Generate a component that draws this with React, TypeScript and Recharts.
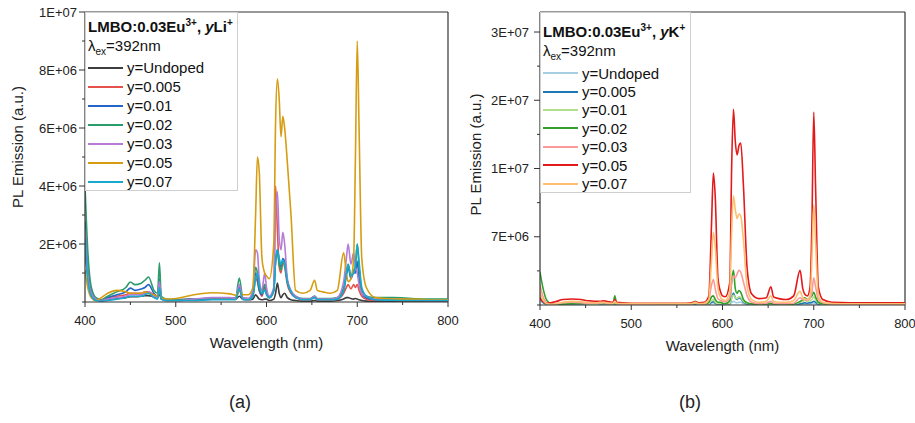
import React from 'react';
import { LineChart, Line, XAxis, YAxis, Legend, Label, ReferenceLine } from 'recharts';

// Wavelength grid (nm)
const wavelengths = [
  400, 403, 407, 412, 418, 425, 435, 445, 450, 455,
  462, 466, 470, 476, 480, 482, 484, 490, 500, 520,
  540, 560, 566, 570, 574, 580, 585, 588, 590, 592,
  595, 598, 600, 603, 608, 610, 612, 614, 616, 618,
  620, 623, 627, 632, 640, 648, 653, 656, 662, 670,
  678, 685, 688, 690, 693, 696, 698, 700, 702, 705,
  710, 720, 740, 760, 780, 800,
];

// Intensities in units of 1E+05 a.u.
const UNIT = 1e5;

// (a) LMBO:0.03Eu3+, yLi+
const liUndoped = [
  18, 9, 3, 1, 0.5, 0.8, 1.2, 1.5, 1.8, 1.8,
  2, 2.2, 2.2, 1.8, 1.5, 3, 1, 0.5, 0.5, 0.8,
  1, 1, 1, 2, 1, 0.8, 1, 2.5, 1.8, 1,
  0.8, 1, 1, 0.5, 1, 3, 6.5, 3, 1.5, 2.5,
  3, 1.5, 0.8, 0.5, 0.3, 0.3, 0.5, 0.3, 0.3, 0.3,
  0.5, 1, 1.5, 1.5, 1.2, 1, 1.2, 1, 0.8, 0.5,
  0.3, 0.2, 0.2, 0.2, 0.2, 0.2,
];
const li0005 = [
  20, 10, 3, 1, 0.8, 1.5, 2, 2.5, 3, 3,
  3, 3.5, 3.5, 2.5, 2, 6, 1.5, 0.8, 0.8, 1,
  1.2, 1.2, 1.2, 4, 1.2, 1, 2, 8, 7, 4,
  2, 5, 3, 1.5, 4, 40, 25, 12, 10, 14,
  12, 6, 3, 1.5, 0.8, 0.8, 1.5, 0.8, 0.8, 0.8,
  1, 3, 5, 6, 4.5, 6, 5, 6, 4, 2,
  1, 0.6, 0.6, 0.5, 0.5, 0.5,
];
const li001 = [
  28, 12, 3.5, 1, 0.6, 1.5, 2.5, 3.5, 4.8, 4,
  4.5, 5, 6, 3, 2, 8, 1.5, 0.8, 0.8, 1,
  1.2, 1.2, 1.2, 5, 1.2, 1, 2.5, 10, 8, 4,
  2.5, 6, 3, 1.5, 4, 14, 18, 14, 12, 15,
  14, 7, 3.5, 1.8, 1, 1, 2, 1, 1, 1,
  1.2, 4, 9, 12, 8, 10, 10, 14, 8, 3,
  1.5, 0.8, 0.8, 0.6, 0.6, 0.5,
];
const li002 = [
  40, 18, 5, 1.5, 0.8, 2, 3.5, 5, 6.9, 6,
  6.5, 7.5, 8.6, 4, 3, 13.5, 2, 1, 0.8, 1,
  1.2, 1.2, 1.5, 8.3, 1.5, 1.2, 3, 12, 10, 5,
  3, 6, 3, 1.5, 4, 14, 17, 13, 11, 14,
  13, 7, 3.5, 2, 1.2, 1.2, 2, 1.2, 1.2, 1.2,
  1.5, 5, 10, 13, 9, 11, 12, 20, 12, 4,
  2, 1.5, 1.5, 1.2, 1, 1,
];
const li003 = [
  25, 10, 3, 1, 0.5, 1, 1.5, 2, 2.5, 2.5,
  2.5, 3, 3.5, 2, 1.5, 7, 1.5, 0.5, 0.5, 1,
  1.5, 1.5, 1.2, 6, 1.5, 1.2, 4, 18, 17, 8,
  4, 10, 5, 2, 5, 30, 38, 22, 18, 24,
  20, 8, 4, 2, 1, 1, 2, 1, 1, 1,
  1.5, 7, 15, 20, 13, 17, 12, 10, 6, 3,
  2, 1, 1, 0.8, 0.5, 0.5,
];
const li005 = [
  11, 5, 1.5, 0.5, 1.5, 3, 4, 3.5, 3, 3,
  3, 3.5, 3, 2.5, 2, 4, 1.5, 1, 1.2, 2.5,
  3.2, 2.8, 2.3, 4, 2.5, 2.5, 5, 30, 50, 45,
  15, 10, 9, 8, 20, 62, 77, 70, 57, 64,
  60, 48, 30, 4, 3, 4, 7.5, 4, 3.5, 3,
  4, 17, 10, 7, 8, 15, 50, 90, 60, 15,
  5, 1.5, 1, 1, 0.8, 0.8,
];
const li007 = [
  22, 8, 2, 0.5, 0.3, 0.5, 1, 1.5, 2, 2,
  2, 2.5, 3, 1.5, 1, 5, 1, 0.5, 0.5, 0.5,
  0.8, 0.8, 0.8, 4.5, 0.8, 0.8, 2, 8, 10, 6,
  3, 4, 2.5, 1.5, 4, 14, 18, 15, 13, 14.5,
  13, 7, 3.5, 1.5, 0.8, 0.8, 1.5, 0.8, 0.8, 0.8,
  1, 4, 10, 13, 9, 10, 13, 20, 14, 5,
  2, 0.8, 0.6, 0.5, 0.5, 0.5,
];

// (b) LMBO:0.03Eu3+, yK+
const kUndoped = [
  6, 3, 1, 0.3, 0.2, 0.2, 0.3, 0.3, 0.3, 0.3,
  0.3, 0.5, 0.4, 0.3, 0.3, 1, 0.3, 0.2, 0.2, 0.2,
  0.2, 0.2, 0.2, 0.8, 0.2, 0.2, 0.5, 2, 2.5, 1.5,
  0.8, 0.8, 0.6, 0.5, 1, 3, 4, 3, 2.5, 3,
  3, 1.5, 0.8, 0.4, 0.3, 0.3, 0.5, 0.3, 0.3, 0.3,
  0.3, 0.8, 1, 1.2, 1, 1.2, 1.5, 2, 1.5, 0.6,
  0.3, 0.2, 0.2, 0.2, 0.2, 0.2,
];
const k0005 = [
  8, 3, 1, 0.3, 0.2, 0.3, 0.3, 0.3, 0.3, 0.3,
  0.4, 0.6, 0.5, 0.3, 0.3, 1.5, 0.3, 0.2, 0.2, 0.2,
  0.2, 0.2, 0.2, 1, 0.3, 0.3, 1, 3, 3.5, 2,
  1, 1.2, 1, 0.7, 1.5, 8, 13, 8, 6, 8,
  7, 3, 1.2, 0.5, 0.3, 0.4, 0.8, 0.4, 0.3, 0.3,
  0.4, 1.5, 2, 2.5, 2, 2.5, 3, 4, 3, 1,
  0.5, 0.3, 0.2, 0.2, 0.2, 0.2,
];
const k001 = [
  12, 5, 1.5, 0.5, 0.8, 1.2, 1.5, 1.5, 1.2, 1,
  1, 1.5, 1.5, 0.8, 0.8, 3, 0.8, 0.5, 0.5, 0.5,
  0.6, 0.6, 0.6, 2, 0.6, 0.6, 1.5, 5, 6, 3,
  1.5, 2, 1.5, 1, 2, 8, 11, 8, 7, 9,
  8, 4, 2, 1, 0.6, 0.8, 1.5, 0.8, 0.6, 0.6,
  0.8, 3, 4, 5, 4, 5, 6, 9, 6, 2,
  1, 0.6, 0.5, 0.5, 0.5, 0.5,
];
const k002 = [
  36, 20, 6, 1.5, 0.8, 1, 1.5, 1.8, 2, 2,
  2.2, 3, 2.5, 1.5, 1.5, 10, 1.5, 0.8, 0.8, 0.8,
  0.8, 0.8, 0.8, 4, 1, 1, 3, 9, 10, 6,
  3, 3, 2, 1.5, 5, 25, 38, 18, 13, 16,
  14, 6, 2.5, 1.2, 0.8, 1, 2, 1, 0.8, 0.8,
  1, 4, 6, 8, 6, 8, 10, 14, 9, 3,
  1.5, 0.8, 0.8, 0.6, 0.6, 0.6,
];
const k003 = [
  22, 10, 3, 1, 1.5, 2.5, 3, 2.5, 2, 2,
  2, 2.5, 2.5, 1.5, 1.5, 5, 1.5, 1, 1, 1,
  1.2, 1.2, 1.2, 3, 1.2, 1.2, 6, 22, 28, 18,
  7, 5, 4, 3.5, 8, 25, 32, 30, 34, 38,
  36, 25, 10, 3, 1.5, 2, 4, 2, 1.5, 1.5,
  2, 8, 6, 6, 5, 8, 14, 30, 20, 6,
  2.5, 1, 1, 1, 0.8, 0.8,
];
const k005 = [
  8, 4, 2, 2.5, 4, 6, 6.6, 6, 5, 4.5,
  4, 4, 4.5, 3.5, 3, 6, 3, 2.5, 2, 2,
  2, 2, 2.5, 3.5, 2.5, 3, 10, 90, 145, 120,
  30, 14, 10, 9, 25, 150, 215, 180, 165, 175,
  178, 130, 40, 12, 7, 8, 20, 9, 7, 6,
  10, 38, 18, 12, 10, 20, 90, 212, 130, 20,
  6, 3, 2.5, 2.5, 2.5, 2.5,
];
const k007 = [
  14, 6, 2, 0.8, 1.5, 3, 4, 3.5, 3, 2.5,
  2.5, 3, 3, 2, 2, 4, 2, 1.5, 1.5, 1.5,
  1.5, 1.5, 1.5, 3, 1.5, 2, 6, 50, 80, 65,
  18, 8, 6, 5, 15, 80, 120, 105, 95, 100,
  98, 70, 20, 6, 3, 4, 10, 4, 3, 3,
  5, 15, 8, 7, 6, 10, 50, 110, 70, 10,
  3, 1.5, 1.2, 1.2, 1.2, 1.2,
];

const seriesNames = ['y=Undoped', 'y=0.005', 'y=0.01', 'y=0.02', 'y=0.03', 'y=0.05', 'y=0.07'];
const liColors = ['#3d3d3d', '#e5524b', '#2466c7', '#2b9c6b', '#b57bd6', '#d69d12', '#19a9cc'];
const kColors = ['#a6cee3', '#1f78b4', '#b2df8a', '#33a02c', '#fb9a99', '#e31a1c', '#fdbf6f'];

const xTicks = [400, 450, 500, 550, 600, 650, 700, 750, 800];
const xTickLabels = ['400', '', '500', '', '600', '', '700', '', '800'];
const yTicksLi = [0, 1e6, 2e6, 3e6, 4e6, 5e6, 6e6, 7e6, 8e6, 9e6, 1e7];
const yTickLabelsLi = ['', '', '2E+06', '', '4E+06', '', '6E+06', '', '8E+06', '', '1E+07'];
const yTicksK = [0, 3.75e6, 7.5e6, 1.125e7, 1.5e7, 1.875e7, 2.25e7, 2.625e7, 3e7];
const yTickLabelsK = ['', '', '7E+06', '', '1E+07', '', '2E+07', '', '3E+07'];

const FONT = '"Liberation Sans", Arial, sans-serif';
const AX = '#333';

const buildRows = (series: number[][]) =>
  wavelengths.map((wl, i) => {
    const row: Record<string, number> = { wl };
    series.forEach((s, k) => {
      row['s' + k] = s[i] * UNIT;
    });
    return row;
  });

const liRows = buildRows([liUndoped, li0005, li001, li002, li003, li005, li007]);
const kRows = buildRows([kUndoped, k0005, k001, k002, k003, k005, k007]);

const XTick = (props: any) => {
  const { x, y, payload } = props;
  const idx = xTicks.indexOf(payload.value);
  const label = xTickLabels[idx] || '';
  const major = label !== '';
  return (
    <g>
      <line x1={x} x2={x} y1={y} y2={y + (major ? 5 : 3)} stroke={AX} strokeWidth={1} />
      {major && (
        <text x={x} y={y + 23} textAnchor="middle" fontSize={13} fill="#222" fontFamily={FONT}>
          {label}
        </text>
      )}
    </g>
  );
};

const makeYTick = (ticks: number[], labels: string[], gap: number) => (props: any) => {
  const { x, y, payload } = props;
  const idx = ticks.indexOf(payload.value);
  const label = labels[idx] || '';
  const major = label !== '';
  return (
    <g>
      <line x1={x - (major ? 6 : 3)} x2={x} y1={y} y2={y} stroke={AX} strokeWidth={1} />
      {major && (
        <text x={x - gap} y={y + 4.5} textAnchor="end" fontSize={13} fill="#222" fontFamily={FONT}>
          {label}
        </text>
      )}
    </g>
  );
};

const YTickLi = makeYTick(yTicksLi, yTickLabelsLi, 8);
const YTickK = makeYTick(yTicksK, yTickLabelsK, 11);

const makeYTitle = (dx: number, dy: number) => (props: any) => {
  const vb = props.viewBox || {};
  const cx = vb.x + dx;
  const cy = vb.y + vb.height / 2 + dy;
  return (
    <text
      x={cx}
      y={cy}
      transform={`rotate(-90, ${cx}, ${cy})`}
      textAnchor="middle"
      dominantBaseline="central"
      fontSize={15}
      fill="#222"
      fontFamily={FONT}
    >
      PL Emission (a.u.)
    </text>
  );
};

const makeXTitle = (dy: number) => (props: any) => {
  const vb = props.viewBox || {};
  return (
    <text
      x={vb.x + vb.width / 2}
      y={vb.y + dy}
      textAnchor="middle"
      fontSize={15}
      fill="#222"
      fontFamily={FONT}
    >
      Wavelength (nm)
    </text>
  );
};

const makeLegend = (
  ion: string,
  colors: string[],
  width: number,
  height: number,
  padTop: number,
  rowH: number,
  gapTop: number,
) => (props: any) => {
  const payload = props.payload || [];
  const items = seriesNames.map((name, k) => {
    const found = payload.find((p: any) => p.value === name);
    return { name, color: found ? found.color : colors[k] };
  });
  return (
    <div
      style={{
        width,
        height,
        boxSizing: 'border-box',
        border: '1px solid #cfcfcf',
        background: '#fff',
        fontFamily: FONT,
        color: '#111',
        paddingTop: padTop,
        paddingLeft: 2,
        textAlign: 'left',
      }}
    >
      <div style={{ height: 19, lineHeight: '19px', fontSize: 15, fontWeight: 'bold', whiteSpace: 'nowrap' }}>
        LMBO:0.03Eu<sup style={{ fontSize: 10, lineHeight: 0 }}>3+</sup>, <i>y</i>
        {ion}
        <sup style={{ fontSize: 10, lineHeight: 0 }}>+</sup>
      </div>
      <div style={{ height: 19, lineHeight: '19px', fontSize: 15, whiteSpace: 'nowrap' }}>
        λ<sub style={{ fontSize: 10, lineHeight: 0 }}>ex</sub>=392nm
      </div>
      <div style={{ marginTop: gapTop }}>
        {items.map((it) => (
          <div
            key={it.name}
            style={{ height: rowH, display: 'flex', alignItems: 'center', fontSize: 15, whiteSpace: 'nowrap' }}
          >
            <span
              style={{
                display: 'inline-block',
                width: 35,
                borderTop: `2px solid ${it.color}`,
                height: 0,
              }}
            />
            <span style={{ marginLeft: 4 }}>{it.name}</span>
          </div>
        ))}
      </div>
    </div>
  );
};

const LiLegend = makeLegend('Li', liColors, 153, 179, 4, 19, 3);
const KLegend = makeLegend('K', kColors, 151, 181, 9, 18.4, 4);

export default function App() {
  return (
    <div style={{ position: 'absolute', left: 0, top: 0, width: 915, height: 423, background: '#fff', fontFamily: FONT }}>
      <div style={{ position: 'absolute', left: 0, top: 0 }}>
        <LineChart width={460} height={380} data={liRows} margin={{ top: 12, right: 12, bottom: 0, left: 0 }}>
          <XAxis
            dataKey="wl"
            type="number"
            domain={[400, 800]}
            ticks={xTicks}
            interval={0}
            height={78}
            tickSize={0}
            tickMargin={0}
            tickLine={false}
            tick={<XTick />}
            axisLine={{ stroke: AX, strokeWidth: 1.2 }}
            allowDataOverflow
          >
            <Label content={makeXTitle(45.5)} />
          </XAxis>
          <YAxis
            type="number"
            domain={[0, 1e7]}
            ticks={yTicksLi}
            interval={0}
            width={85}
            tickSize={0}
            tickMargin={0}
            tickLine={false}
            tick={<YTickLi />}
            axisLine={{ stroke: AX, strokeWidth: 1.2 }}
            allowDataOverflow
          >
            <Label content={makeYTitle(17, -10)} />
          </YAxis>
          <ReferenceLine y={1e7} stroke={AX} strokeWidth={1.2} />
          <ReferenceLine x={800} stroke={AX} strokeWidth={1.2} />
          {seriesNames.map((name, k) => (
            <Line
              key={name}
              type="monotone"
              dataKey={'s' + k}
              name={name}
              stroke={liColors[k]}
              strokeWidth={1.6}
              dot={false}
              isAnimationActive={false}
            />
          ))}
          <Legend
            layout="horizontal"
            verticalAlign="middle"
            content={<LiLegend />}
            wrapperStyle={{ position: 'absolute', left: 85, top: 12, width: 153, height: 179 }}
          />
        </LineChart>
      </div>
      <div style={{ position: 'absolute', left: 460, top: 0 }}>
        <LineChart width={455} height={380} data={kRows} margin={{ top: 12, right: 10, bottom: 0, left: 0 }}>
          <XAxis
            dataKey="wl"
            type="number"
            domain={[400, 800]}
            ticks={xTicks}
            interval={0}
            height={75}
            tickSize={0}
            tickMargin={0}
            tickLine={false}
            tick={<XTick />}
            axisLine={{ stroke: AX, strokeWidth: 1.2 }}
            allowDataOverflow
          >
            <Label content={makeXTitle(46)} />
          </XAxis>
          <YAxis
            type="number"
            domain={[0, 3.22e7]}
            ticks={yTicksK}
            interval={0}
            width={80}
            tickSize={0}
            tickMargin={0}
            tickLine={false}
            tick={<YTickK />}
            axisLine={{ stroke: AX, strokeWidth: 1.2 }}
            allowDataOverflow
          >
            <Label content={makeYTitle(15, -4)} />
          </YAxis>
          <ReferenceLine y={3.22e7} stroke={AX} strokeWidth={1.2} />
          <ReferenceLine x={800} stroke={AX} strokeWidth={1.2} />
          {seriesNames.map((name, k) => (
            <Line
              key={name}
              type="monotone"
              dataKey={'s' + k}
              name={name}
              stroke={kColors[k]}
              strokeWidth={1.6}
              dot={false}
              isAnimationActive={false}
            />
          ))}
          <Legend
            layout="horizontal"
            verticalAlign="middle"
            content={<KLegend />}
            wrapperStyle={{ position: 'absolute', left: 80, top: 12, width: 151, height: 181 }}
          />
        </LineChart>
      </div>
      <div style={{ position: 'absolute', left: 215, top: 392, width: 50, textAlign: 'center', fontSize: 18, color: '#222', fontFamily: FONT }}>
        (a)
      </div>
      <div style={{ position: 'absolute', left: 665, top: 392, width: 50, textAlign: 'center', fontSize: 18, color: '#222', fontFamily: FONT }}>
        (b)
      </div>
    </div>
  );
}
